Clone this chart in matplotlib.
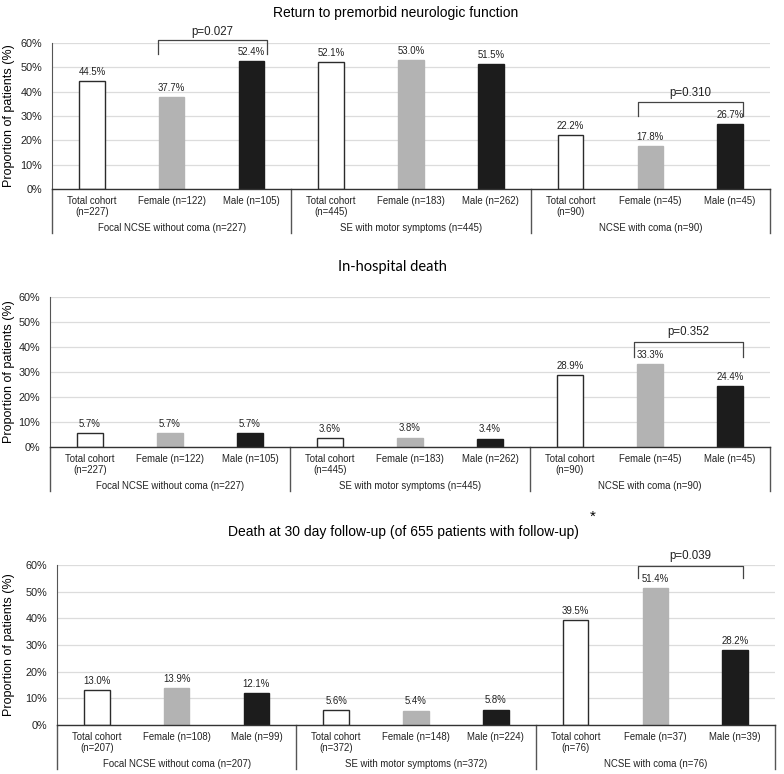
import matplotlib
matplotlib.use("Agg")
import matplotlib.pyplot as plt

plt.rcParams['font.family'] = ['Liberation Sans', 'DejaVu Sans']

# ---- data ----
cat_kind = ["Total cohort", "Female", "Male"] * 3
n_panel12 = [227, 122, 105, 445, 183, 262, 90, 45, 45]
n_panel3 = [207, 108, 99, 372, 148, 224, 76, 37, 39]
groups_12 = ["Focal NCSE without coma (n=227)", "SE with motor symptoms (n=445)", "NCSE with coma (n=90)"]
groups_3 = ["Focal NCSE without coma (n=207)", "SE with motor symptoms (n=372)", "NCSE with coma (n=76)"]

premorbid = [44.5, 37.7, 52.4, 52.1, 53.0, 51.5, 22.2, 17.8, 26.7]
hosp_death = [5.7, 5.7, 5.7, 3.6, 3.8, 3.4, 28.9, 33.3, 24.4]
death_30d = [13.0, 13.9, 12.1, 5.6, 5.4, 5.8, 39.5, 51.4, 28.2]

# p-value brackets: (left x, right x, top y, leg bottom y, text y, label)
brackets_1 = [(0.83, 2.2, 61.3, 55.5, 64.6, "p=0.027"),
              (6.84, 8.16, 35.9, 30.2, 39.6, "p=0.310")]
brackets_2 = [(6.8, 8.16, 42.1, 36.1, 46.0, "p=0.352")]
brackets_3 = [(6.78, 8.1, 59.7, 55.1, 63.5, "p=0.039")]

W, H = 784, 774
fig = plt.figure(figsize=(W / 100, H / 100), dpi=100)

face = {"Total cohort": "white", "Female": "#b3b3b3", "Male": "#1c1c1c"}
edge = {"Total cohort": "#2b2b2b", "Female": "#b3b3b3", "Male": "#1c1c1c"}


def cat_label(kind, n):
    if kind == "Total cohort":
        return ["Total cohort", "(n=%d)" % n]
    return ["%s (n=%d)" % (kind, n)]


def panel(rect_px, values, ns, groups, brackets):
    x0, y_top, x1, y_zero = rect_px
    ax = fig.add_axes([x0 / W, 1 - y_zero / H, (x1 - x0) / W, (y_zero - y_top) / H])
    h_px = y_zero - y_top
    xs = range(len(values))
    ax.bar(xs, values, width=0.32,
           color=[face[k] for k in cat_kind],
           edgecolor=[edge[k] for k in cat_kind], linewidth=1.0, zorder=3)
    ax.set_xlim(-0.5, 8.5)
    ax.set_ylim(0, 60)
    ax.set_yticks(range(0, 61, 10))
    ax.set_yticklabels(["%d%%" % t for t in range(0, 61, 10)], fontsize=7.8, color="#222222")
    ax.tick_params(axis="y", length=0, pad=7)
    ax.set_xticks([])
    ax.grid(axis="y", color="#dcdcdc", linewidth=0.9, zorder=0)
    for s in ["top", "right", "bottom"]:
        ax.spines[s].set_visible(False)
    ax.spines["left"].set_color("#555555")
    ax.axhline(0, color="#333333", linewidth=1.0, zorder=4, clip_on=False)
    ax.set_ylabel("Proportion of patients (%)", fontsize=9)
    ax.yaxis.set_label_coords(-(x0 - 15) / (x1 - x0), 0.5)

    # value labels
    for i, v in enumerate(values):
        ax.annotate("%.1f%%" % v, xy=(i, v), xytext=(0, 3), textcoords="offset points",
                    ha="center", va="bottom", fontsize=6.9, color="#222222")

    # category labels
    trans = ax.get_xaxis_transform()
    for i, (k, n) in enumerate(zip(cat_kind, ns)):
        for j, line in enumerate(cat_label(k, n)):
            ax.text(i, -(12 + 11 * j) / h_px, line, transform=trans,
                    ha="center", va="center", fontsize=6.9, color="#222222")
    # group labels and separators
    for g, name in enumerate(groups):
        ax.text(3 * g + 1, -39 / h_px, name, transform=trans,
                ha="center", va="center", fontsize=6.9, color="#222222")
    for xs_ in [-0.5, 2.5, 5.5, 8.5]:
        ax.plot([xs_, xs_], [0, -44 / h_px], transform=trans, color="#555555",
                linewidth=1.0, clip_on=False)

    # p-value brackets
    for (bl, br, top, leg, ty, lab) in brackets:
        ax.plot([bl, bl, br, br], [leg, top, top, leg], color="#444444",
                linewidth=0.9, clip_on=False, zorder=5)
        ax.text((bl + br) / 2, ty, lab, ha="center", va="center", fontsize=8.3,
                color="#222222", clip_on=False)
    return ax


panel((52, 43, 770, 189), premorbid, n_panel12, groups_12, brackets_1)
panel((50, 297, 770, 447), hosp_death, n_panel12, groups_12, brackets_2)
panel((57, 565, 775, 725), death_30d, n_panel3, groups_3, brackets_3)

fig.text(396 / W, 1 - 13 / H, "Return to premorbid neurologic function",
         ha="center", va="center", fontsize=10)
fig.text(392 / W, 1 - 267 / H, "In-hospital death",
         ha="center", va="center", fontsize=10.5, family=["Lato", "DejaVu Sans"])
fig.text(403 / W, 1 - 532 / H, "Death at 30 day follow-up (of 655 patients with follow-up)",
         ha="center", va="center", fontsize=10)
fig.text(593 / W, 1 - 517 / H, "*", ha="center", va="center", fontsize=11)

fig.savefig("out.png", dpi=100, facecolor="white")
